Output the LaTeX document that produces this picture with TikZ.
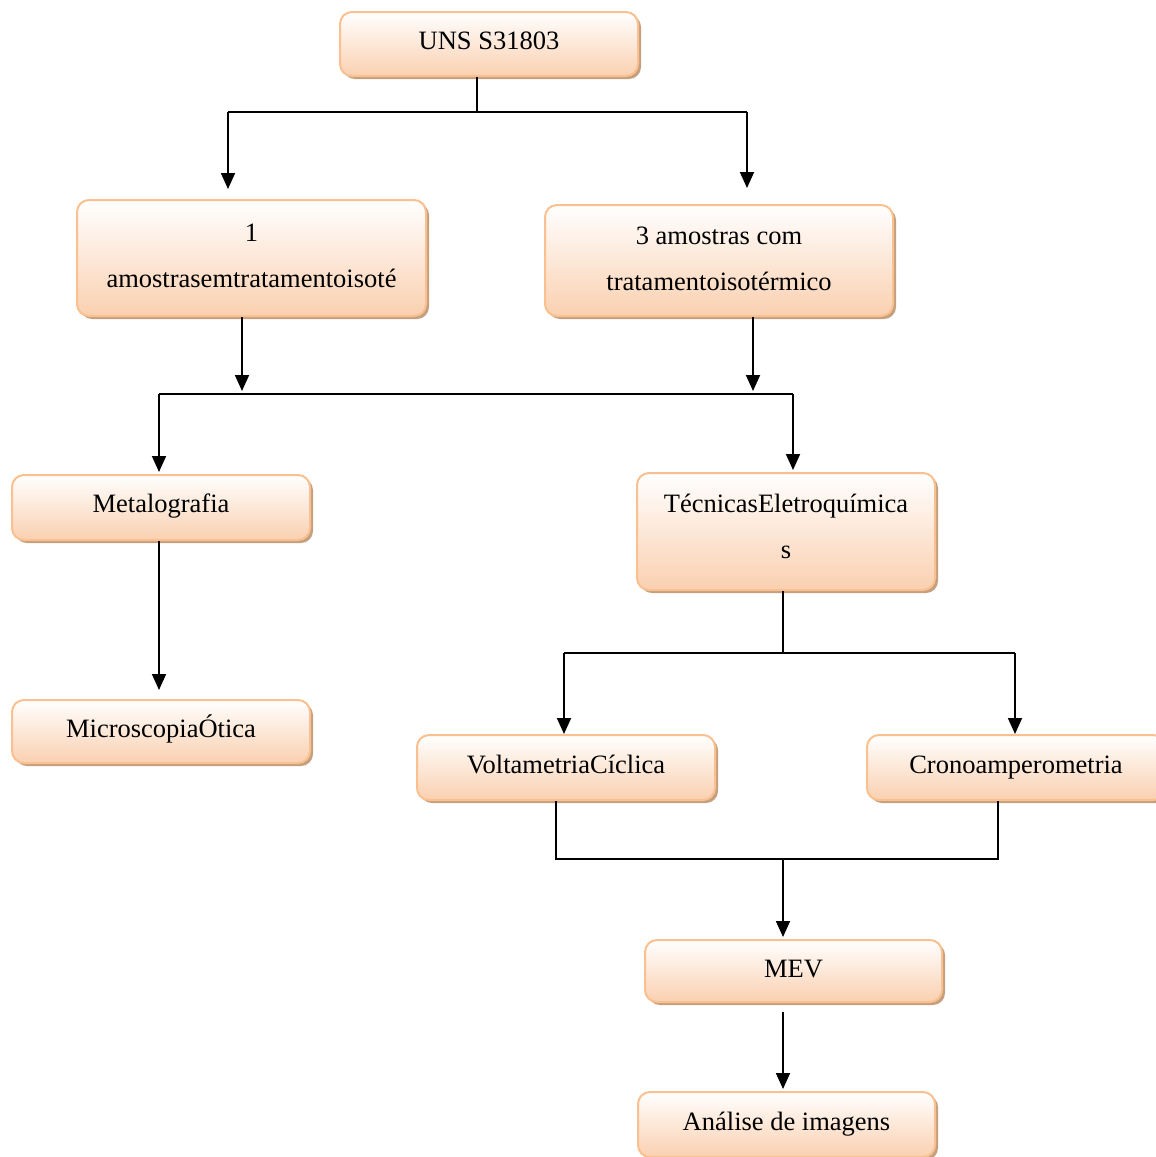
\documentclass[tikz,border=0pt]{standalone}
\usepackage{fontspec}
\setmainfont{Liberation Serif}
\usepackage{tikz}
\usetikzlibrary{arrows.meta,shadows}
\definecolor{boxline}{RGB}{250,192,144}
\definecolor{boxfill}{RGB}{250,208,176}
\definecolor{boxshadow}{RGB}{196,160,126}

\begin{document}
\begin{tikzpicture}[x=1pt, y=-1pt,
  etapa/.style={draw=boxline, line width=2pt, rounded corners=12pt, top color=white, bottom color=boxfill,
    align=center, inner sep=0pt, font=\fontsize{26.5}{46}\selectfont,
    drop shadow={shadow xshift=3pt, shadow yshift=-3pt, fill=boxshadow, opacity=1}},
  seta/.style={line width=1.8pt, -{Triangle[width=14pt,length=16pt]}},
  linha/.style={line width=1.8pt}]
  \useasboundingbox (0,0) rectangle (1156,1157);
  % caixas
  \node[etapa, minimum width=298pt, minimum height=64pt, text depth=6pt] (uns) at (489,44) {UNS S31803};
  \node[etapa, minimum width=349pt, minimum height=116pt, text depth=4pt] (semtrat) at (251.5,258) {1\\amostrasemtratamentoisoté};
  \node[etapa, minimum width=348pt, minimum height=111pt, text depth=4pt] (comtrat) at (719,260.5) {3 amostras com\\tratamentoisotérmico};
  \node[etapa, minimum width=298pt, minimum height=65pt, text depth=7.75pt] (metalo) at (161,507.5) {Metalografia};
  \node[etapa, minimum width=298pt, minimum height=117pt, text depth=10pt] (tecnicas) at (786,531.5) {TécnicasEletroquímica\\s};
  \node[etapa, minimum width=298pt, minimum height=63pt, text depth=11.75pt] (micro) at (161,731.5) {MicroscopiaÓtica};
  \node[etapa, minimum width=298pt, minimum height=65pt, text depth=6pt] (volta) at (566,767.5) {VoltametriaCíclica};
  \node[etapa, minimum width=298pt, minimum height=65pt] (crono) at (1016,767.5) {Cronoamperometria};
  \node[etapa, minimum width=297pt, minimum height=62pt, text depth=4pt] (mev) at (793.5,971) {MEV};
  \node[etapa, minimum width=297pt, minimum height=65pt] (analise) at (786.5,1124.5) {Análise de imagens};
  % ligacoes
  \coordinate (a1) at (477,112);
  \coordinate (a1l) at (228,112);
  \coordinate (a1r) at (747,112);
  \draw[linha] (uns.south -| a1) -- (a1);
  \draw[linha] (a1l) -- (a1r);
  \draw[seta, shorten >=10pt] (a1l) -- (semtrat.north -| a1l);
  \draw[seta, shorten >=16pt] (a1r) -- (comtrat.north -| a1r);
  \coordinate (b1) at (242,391);
  \coordinate (b2) at (753,391);
  \draw[seta] (semtrat.south -| b1) -- (b1);
  \draw[seta] (comtrat.south -| b2) -- (b2);
  \coordinate (a2l) at (159,394);
  \coordinate (a2r) at (793,394);
  \draw[linha] (a2l) -- (a2r);
  \draw[seta, shorten >=2pt] (a2l) -- (metalo.north -| a2l);
  \draw[seta, shorten >=2pt] (a2r) -- (tecnicas.north -| a2r);
  \draw[seta, shorten >=9pt] (metalo.south -| a2l) -- (micro.north -| a2l);
  \coordinate (c1) at (783,653);
  \coordinate (c1l) at (564,653);
  \coordinate (c1r) at (1015,653);
  \draw[linha] (tecnicas.south -| c1) -- (c1);
  \draw[linha] (c1l) -- (c1r);
  \draw[seta] (c1l) -- (volta.north -| c1l);
  \draw[seta] (c1r) -- (crono.north -| c1r);
  \coordinate (d1) at (783,859);
  \coordinate (d1l) at (556,859);
  \coordinate (d1r) at (998,859);
  \draw[linha] (volta.south -| d1l) -- (d1l) -- (d1r) -- (crono.south -| d1r);
  \draw[seta, shorten >=2pt] (d1) -- (mev.north -| d1);
  \draw[seta, shorten <=9pt, shorten >=2pt] (mev.south -| d1) -- (analise.north -| d1);
\end{tikzpicture}
\end{document}
